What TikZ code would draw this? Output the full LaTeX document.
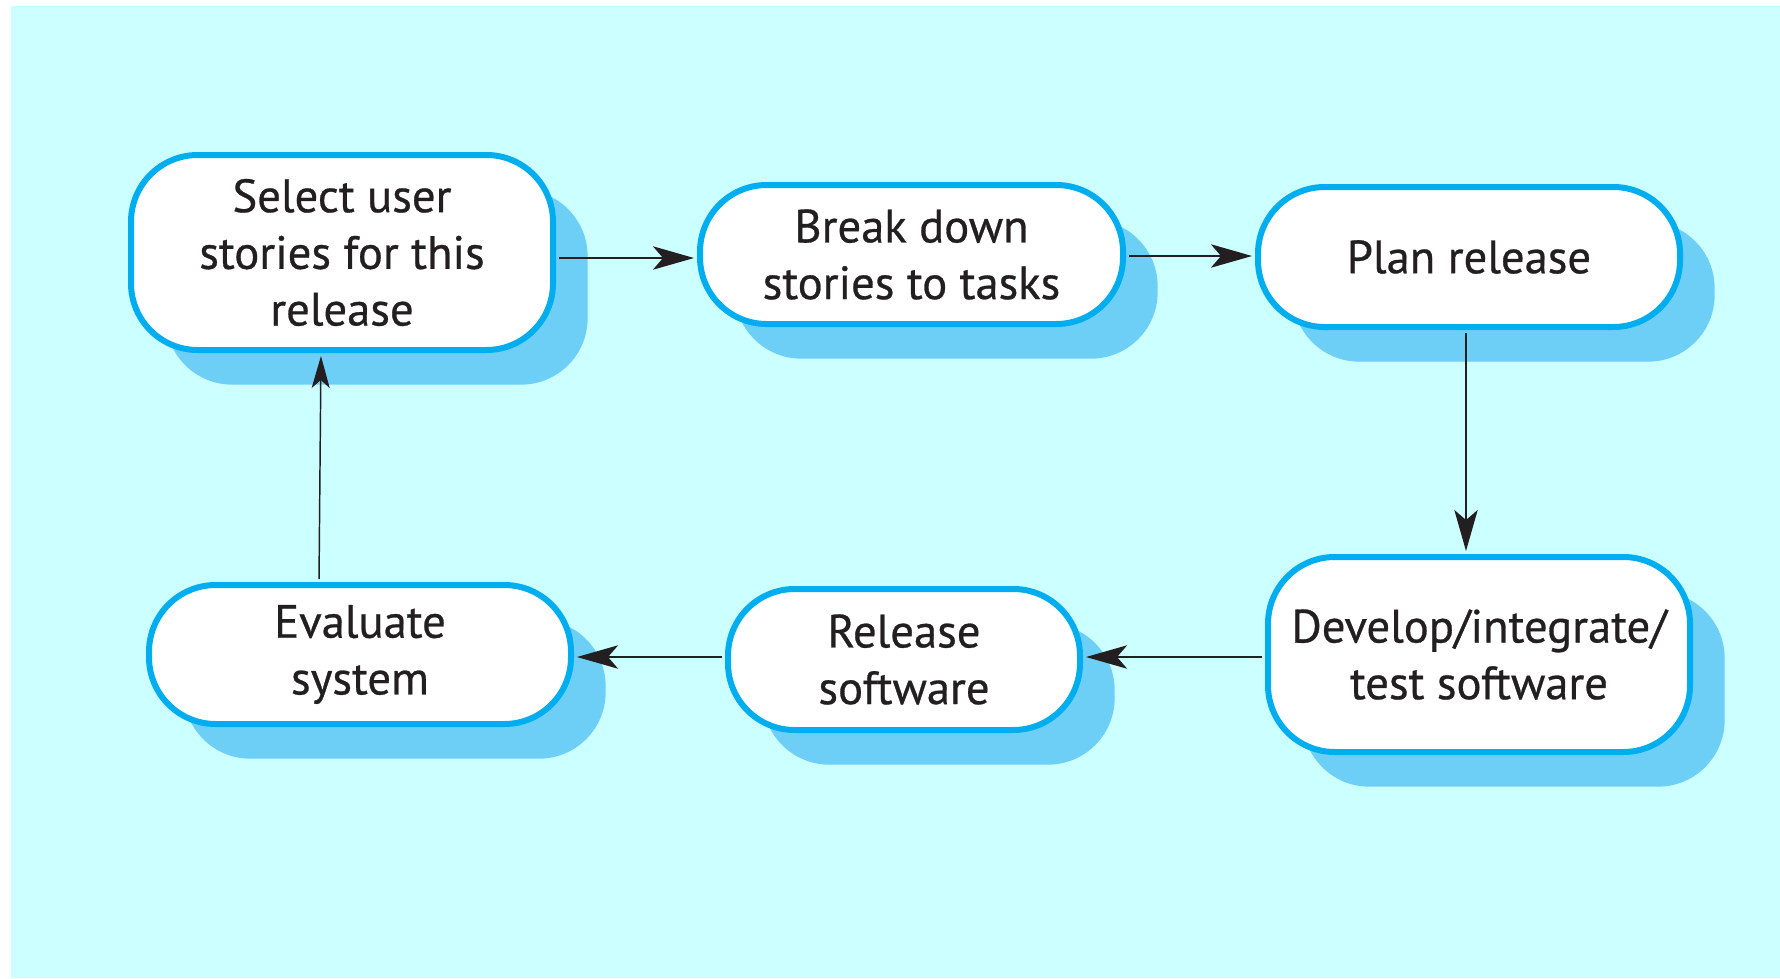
\documentclass[tikz,border=0pt]{standalone}
\usepackage{fontspec}
\setmainfont{PT Sans}[FakeBold=0.6]
\usetikzlibrary{arrows.meta,shadows}
\definecolor{bgcol}{HTML}{CCFFFF}
\definecolor{bordcol}{HTML}{00AEEF}
\definecolor{shcol}{HTML}{6DCFF6}
\definecolor{txtcol}{HTML}{231F20}
\begin{document}
\begin{tikzpicture}[x=0.75pt,y=-0.75pt,
  proc/.style={rectangle, rounded corners=50pt, draw=bordcol, line width=4.5pt,
    fill=white, text=txtcol, align=center, inner sep=0pt,
    font=\fontsize{35}{42.5}\selectfont,
    drop shadow={shadow xshift=26pt, shadow yshift=-26pt, fill=shcol, opacity=1}},
  flow/.style={draw=txtcol, line width=1.8pt,
    -{Stealth[length=30.75pt,width=17.5pt,inset=7.5pt]},
    shorten >=2.25pt, shorten <=2.25pt},
  thinflow/.style={draw=txtcol, line width=1.1pt,
    -{Stealth[length=24pt,width=13.5pt,inset=6pt]},
    shorten >=2.25pt, shorten <=2.25pt}]
\useasboundingbox (0,0) rectangle (1780,978);
\fill[white] (0,0) rectangle (1780,978);
\fill[bgcol] (11,6) rectangle (1780,978);

\node[proc, minimum width=316.5pt, minimum height=146.25pt] (b1) at (342,252.5) {Select user\\stories for this\\release};
\node[proc, minimum width=317.25pt, minimum height=104.25pt] (b2) at (911.5,254.5) {Break down\\stories to tasks};
\node[proc, minimum width=316.5pt, minimum height=105pt] (b3) at (1469,257) {Plan release};
\node[proc, minimum width=316.5pt, minimum height=146.25pt] (b4) at (1479,654.5) {Develop/integrate/\\test software};
\node[proc, minimum width=264pt, minimum height=105.75pt] (b5) at (904,659.5) {Release\\software};
\node[proc, minimum width=316.5pt, minimum height=104.25pt] (b6) at (360,654.5) {Evaluate\\system};

\coordinate (r12) at (0,258);
\coordinate (r23) at (0,256);
\coordinate (c34) at (1466,0);
\coordinate (r45) at (0,657);
\coordinate (c6) at (319,0);
\coordinate (c1) at (321,0);

\draw[flow] (b1.east |- r12) -- (b2.west |- r12);
\draw[flow] (b2.east |- r23) -- (b3.west |- r23);
\draw[flow] (b3.south -| c34) -- (b4.north -| c34);
\draw[flow] (b4.west |- r45) -- (b5.east |- r45);
\draw[flow] (b5.west |- r45) -- (b6.east |- r45);
\draw[thinflow] (b6.north -| c6) -- (b1.south -| c1);
\end{tikzpicture}
\end{document}
